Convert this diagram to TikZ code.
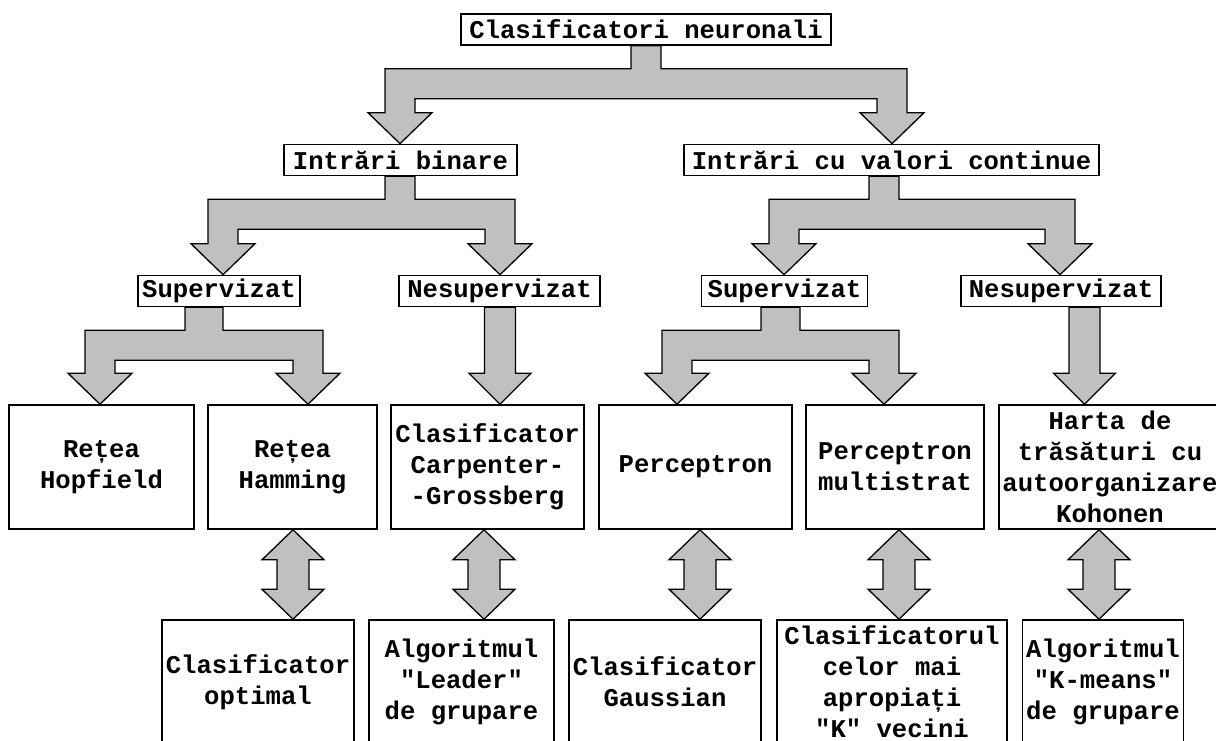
\documentclass[tikz,border=0pt]{standalone}
\usepackage{fontspec}
\usetikzlibrary{calc}
\newfontfamily\monob{Liberation Mono}
\definecolor{arrowgray}{RGB}{192,192,192}
% block arrows, points given as (x,0 |- node.anchor)
\newcommand\fork[4]{%
	\draw[blockarrow] let \p1=#1, \p2=#2, \p3=#3 in
	({\x1-#4pt},\y1) -- ({\x1-#4pt},{\y1-23pt}) -- ({\x2-15pt},{\y1-23pt})
	-- ({\x2-15pt},{\y2+31pt}) -- ({\x2-32pt},{\y2+31pt}) -- (\x2,\y2)
	-- ({\x2+32pt},{\y2+31pt}) -- ({\x2+15pt},{\y2+31pt}) -- ({\x2+15pt},{\y1-53pt})
	-- ({\x3-15pt},{\y1-53pt}) -- ({\x3-15pt},{\y3+31pt}) -- ({\x3-32pt},{\y3+31pt})
	-- (\x3,\y3) -- ({\x3+32pt},{\y3+31pt}) -- ({\x3+15pt},{\y3+31pt})
	-- ({\x3+15pt},{\y1-23pt}) -- ({\x1+#4pt},{\y1-23pt}) -- ({\x1+#4pt},\y1) -- cycle;}
\newcommand\sarrow[2]{%
	\draw[blockarrow] let \p1=#1, \p2=#2 in
	({\x1-15.5pt},\y1) -- ({\x1-15.5pt},{\y2+31pt}) -- ({\x1-31pt},{\y2+31pt}) -- (\x1,\y2)
	-- ({\x1+31pt},{\y2+31pt}) -- ({\x1+15.5pt},{\y2+31pt}) -- ({\x1+15.5pt},\y1) -- cycle;}
\newcommand\darrow[2]{%
	\draw[blockarrow] let \p1=#1, \p2=#2 in
	(\x1,\y1) -- ({\x1+31pt},{\y1-30pt}) -- ({\x1+16pt},{\y1-30pt}) -- ({\x1+16pt},{\y2+30pt})
	-- ({\x1+31pt},{\y2+30pt}) -- (\x1,\y2) -- ({\x1-31pt},{\y2+30pt}) -- ({\x1-16pt},{\y2+30pt})
	-- ({\x1-16pt},{\y1-30pt}) -- ({\x1-31pt},{\y1-30pt}) -- cycle;}
\begin{document}
\begin{tikzpicture}[x=1pt, y=-1pt, line join=miter,
	txt/.style={font=\monob\bfseries\fontsize{25.6}{31}\selectfont},
	lbl/.style={txt, draw, line width=1.6pt, fill=white, inner sep=0pt, minimum height=31},
	box/.style={txt, draw, line width=1.6pt, inner sep=0pt, minimum height=124, align=center},
	blockarrow/.style={draw, fill=arrowgray, line width=1.3pt}]
	\useasboundingbox (0,0) rectangle (1216,740);
	\clip (0,0) rectangle (1216,740);
	% levels 0-2
	\node[lbl, minimum width=370] (root) at (646,29.5) {Clasificatori neuronali};
	\node[lbl, minimum width=233] (bin) at (400.5,160) {Intrări binare};
	\node[lbl, minimum width=415] (cont) at (891.5,160) {Intrări cu valori continue};
	\node[lbl, minimum width=162] (supA) at (219,291) {Supervizat};
	\node[lbl, minimum width=201] (nesA) at (499.5,291) {Nesupervizat};
	\node[lbl, minimum width=166] (supB) at (784.5,291) {Supervizat};
	\node[lbl, minimum width=200] (nesB) at (1061,291) {Nesupervizat};
	% level 3
	\node[box, minimum width=185] (hop) at (101.5,467) {Rețea\\Hopfield};
	\node[box, minimum width=169] (ham) at (292.5,467) {Rețea\\Hamming};
	\node[box, minimum width=193] (cg) at (487.5,467) {Clasificator\\Carpenter-\\-Grossberg};
	\node[box, minimum width=193] (perc) at (695.5,467) {Perceptron};
	\node[box, minimum width=178] (mlp) at (895,467) {Perceptron\\multistrat};
	\node[box, minimum width=222] (koh) at (1110,467) {Harta de\\trăsături cu\\autoorganizare\\Kohonen};
	% level 4
	\node[box, minimum width=192] (opt) at (258,682) {Clasificator\\optimal};
	\node[box, minimum width=185] (lead) at (461.5,682) {Algoritmul\\"Leader"\\de grupare};
	\node[box, minimum width=192] (gauss) at (665,682) {Clasificator\\Gaussian};
	\node[box, minimum width=230] (knn) at (892,682) {Clasificatorul\\celor mai\\apropiați\\"K" vecini};
	\node[box, minimum width=161] (kmeans) at (1103,682) {Algoritmul\\"K-means"\\de grupare};
	% arrows
	\fork{(646,0 |- root.south)}{(400,0 |- bin.north)}{(892,0 |- cont.north)}{15}
	\fork{(400,0 |- bin.south)}{(223,0 |- supA.north)}{(500,0 |- nesA.north)}{15}
	\fork{(884,0 |- cont.south)}{(784,0 |- supB.north)}{(1060,0 |- nesB.north)}{15}
	\fork{(204,0 |- supA.south)}{(100,0 |- hop.north)}{(308,0 |- ham.north)}{19}
	\fork{(780.5,0 |- supB.south)}{(677,0 |- perc.north)}{(884,0 |- mlp.north)}{19.5}
	\sarrow{(500,0 |- nesA.south)}{(500,0 |- cg.north)}
	\sarrow{(1084.5,0 |- nesB.south)}{(1084.5,0 |- koh.north)}
	\foreach \px/\up/\dn in {293/ham/opt, 484/cg/lead, 700/perc/gauss, 899/mlp/knn, 1099/koh/kmeans}
		\darrow{(\px,0 |- \up.south)}{(\px,0 |- \dn.north)};
\end{tikzpicture}
\end{document}
